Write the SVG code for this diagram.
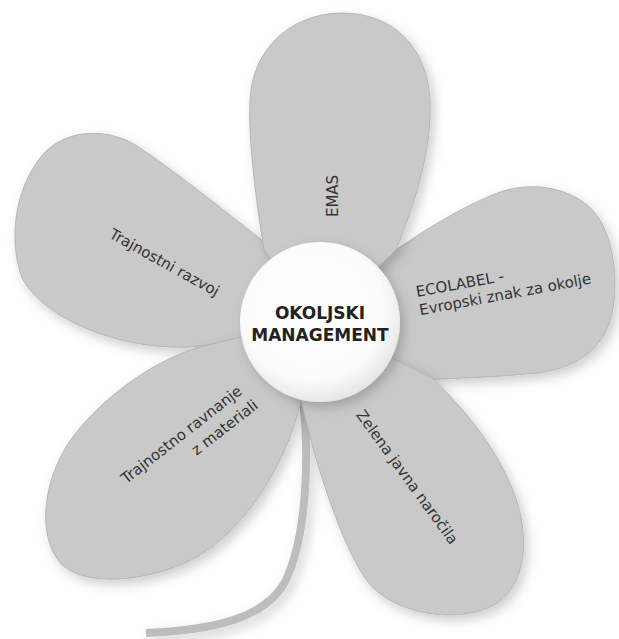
<svg xmlns="http://www.w3.org/2000/svg" width="619" height="639" viewBox="0 0 619 639">
<defs>
<filter id="sh" x="-20%" y="-20%" width="140%" height="140%">
<feGaussianBlur in="SourceAlpha" stdDeviation="6"/>
<feOffset dx="4" dy="5" result="b"/>
<feFlood flood-color="#000" flood-opacity="0.2"/>
<feComposite in2="b" operator="in"/>
<feMerge><feMergeNode/><feMergeNode in="SourceGraphic"/></feMerge>
</filter>
<radialGradient id="cg" cx="0.45" cy="0.42" r="0.6">
<stop offset="0" stop-color="#ffffff"/>
<stop offset="0.75" stop-color="#fbfbfb"/>
<stop offset="1" stop-color="#e4e4e4"/>
</radialGradient>
<style>
.petal{fill:#c9c9c9;stroke:#adadad;stroke-width:0.8;filter:url(#sh)}
.lbl{font-family:'DejaVu Sans','Liberation Sans',sans-serif;font-size:15px;fill:#333}
.ctr{font-family:'DejaVu Sans','Liberation Sans',sans-serif;font-size:17px;font-weight:bold;fill:#222;text-anchor:middle}
</style>
</defs>
<rect width="619" height="639" fill="#fff"/>
<g id="connectors">
<path d="M303,398 C310,460 306,540 285,582 C265,618 215,630 146,633" fill="none" stroke="#bdbdbd" stroke-width="8" filter="url(#sh)"/>
</g>
<g id="petal-razvoj">
<path class="petal" d="M268,245 C230,215 180,175 143,150 C115,128 65,125 40,158 C15,190 8,240 22,278 C45,320 120,350 190,347 C215,345 235,340 252,336 L320,322 Z"/>
<text class="lbl" text-anchor="middle" transform="translate(162,267) rotate(29)">Trajnostni razvoj</text>
</g>
<g id="petal-ecolabel">
<path class="petal" d="M385,258 C420,232 465,205 500,192 C535,180 580,188 600,220 C618,250 620,305 605,333 C590,360 560,372 527,374 C480,378 430,380 385,380 L320,322 Z"/>
<g class="lbl" transform="translate(417,297) rotate(-10.5)">
<text x="0" y="0">ECOLABEL -</text>
<text x="0" y="18.5">Evropski znak za okolje</text>
</g>
</g>
<g id="petal-ravnanje">
<path class="petal" d="M252,334 L197,348 C150,362 100,400 72,438 C45,475 36,530 58,560 C80,590 155,582 200,555 C248,525 285,465 300,405 L320,322 Z"/>
<g class="lbl" text-anchor="end" transform="translate(243,393) rotate(-38)">
<text x="0" y="0">Trajnostno ravnanje</text>
<text x="4" y="21">z materiali</text>
</g>
</g>
<g id="petal-zelena">
<path class="petal" d="M298,388 C312,450 335,530 363,575 C385,612 450,625 490,607 C530,588 530,530 512,488 C492,440 460,405 432,378 L320,322 Z"/>
<text class="lbl" text-anchor="middle" transform="translate(403,480) rotate(54)">Zelena javna naročila</text>
</g>
<g id="petal-emas">
<path class="petal" d="M264,250 C256,200 248,140 250,100 C252,50 290,14 340,13 C395,12 428,50 430,100 C432,150 416,200 396,250 L320,322 Z"/>
<text class="lbl" text-anchor="middle" transform="translate(338,196) rotate(-90)">EMAS</text>
</g>
<g id="center">
<circle cx="320" cy="322" r="80" fill="url(#cg)" filter="url(#sh)"/>
<text class="ctr" x="320" y="319">OKOLJSKI</text>
<text class="ctr" x="320" y="341">MANAGEMENT</text>
</g>
</svg>
